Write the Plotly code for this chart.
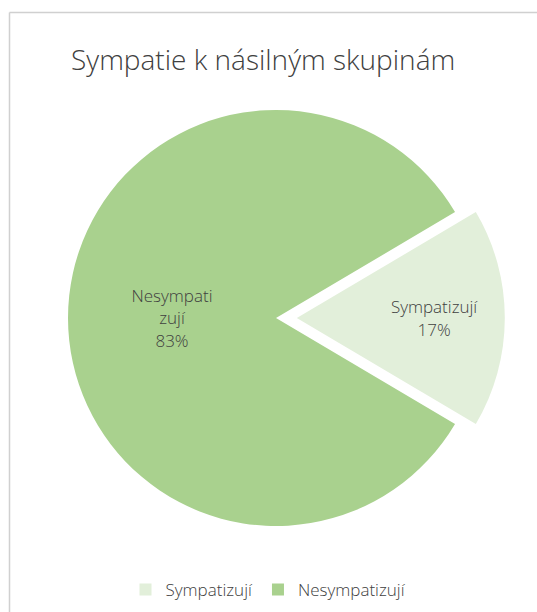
import plotly.graph_objects as go

# Data
labels = ["Sympatizují", "Nesympatizují"]
values = [17, 83]
wrapped_labels = ["Sympatizují", "Nesympati<br>zují"]
colors = ["#E2EFDA", "#A9D18E"]
pulls = [0.1, 0]
title_text = "Sympatie k násilným skupinám"

W, H = 537, 612
text_color = "#404040"
font_family = "'Open Sans', Lato, sans-serif"

# pie geometry (pixels)
cx, cy = 276, 318
R = 208
half = R * 1.1

fig = go.Figure()
fig.add_trace(go.Pie(
    labels=labels,
    values=values,
    customdata=wrapped_labels,
    texttemplate="%{customdata}<br>%{percent:.0%}",
    textposition="inside",
    insidetextorientation="horizontal",
    hoverinfo="label+percent",
    marker=dict(colors=colors, line=dict(width=0)),
    pull=pulls,
    sort=False,
    direction="clockwise",
    rotation=90 - 0.17 * 360 / 2,
    textfont=dict(family=font_family, size=17, color=text_color, weight=300),
    domain=dict(x=[(cx - half) / W, (cx + half) / W],
                y=[(H - cy - half) / H, (H - cy + half) / H]),
))

fig.update_layout(
    width=W, height=H,
    margin=dict(l=0, r=0, t=0, b=0),
    paper_bgcolor="white",
    plot_bgcolor="white",
    title=dict(text=title_text, x=0.49, xanchor="center", y=1 - 60 / H, yanchor="middle",
               font=dict(family=font_family, size=28, color=text_color, weight=300)),
    legend=dict(orientation="h", x=0.5, xanchor="center", y=1 - 590 / H, yanchor="middle",
                font=dict(family=font_family, size=17, color=text_color, weight=300),
                itemwidth=30, traceorder="normal"),
    uniformtext=dict(minsize=10, mode="show"),
    shapes=[
        dict(type="line", xref="paper", yref="paper", x0=9.5 / W, x1=1, y0=1 - 12.5 / H, y1=1 - 12.5 / H,
             line=dict(color="#D0D0D0", width=1.5)),
        dict(type="line", xref="paper", yref="paper", x0=9.5 / W, x1=9.5 / W, y0=0, y1=1 - 12.5 / H,
             line=dict(color="#D0D0D0", width=1.5)),
    ],
)

fig.write_html(
    "out.html",
    config={"displayModeBar": False},
    post_script="document.body.style.margin='0';document.body.style.overflow='hidden';",
)
